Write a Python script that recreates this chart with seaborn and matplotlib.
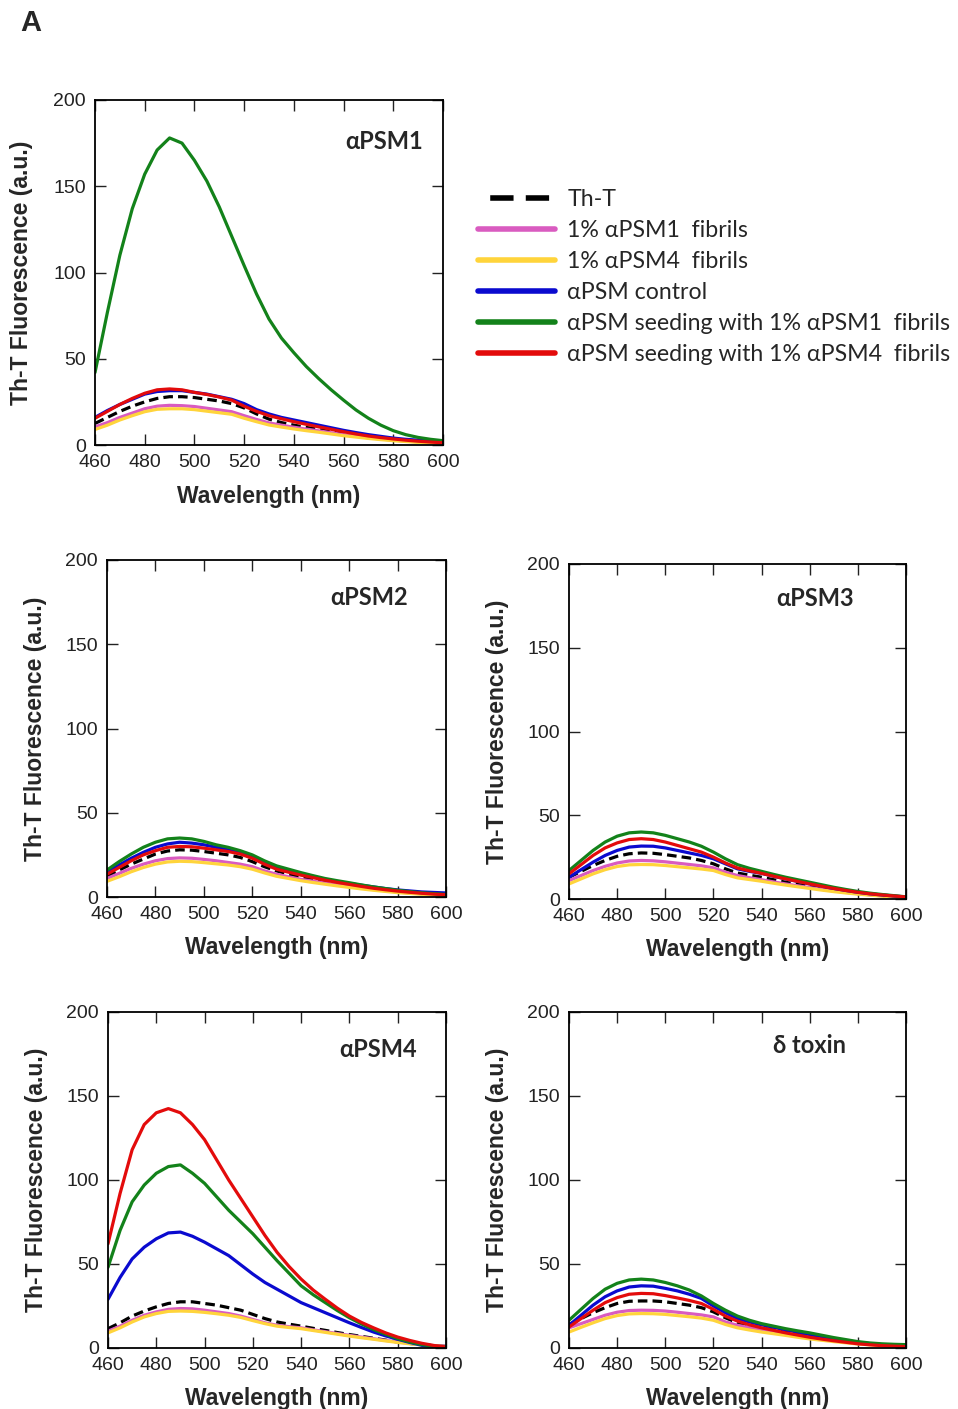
import matplotlib
matplotlib.use("Agg")
import matplotlib.pyplot as plt
import numpy as np
import pandas as pd
import seaborn as sns
from matplotlib.lines import Line2D

# wavelength grid (nm), shared by every curve
WL = list(range(460, 601, 5))

CONDITIONS = ["Th-T", "1% \u03b1PSM1  fibrils", "1% \u03b1PSM4  fibrils", "\u03b1PSM control",
              "\u03b1PSM seeding with 1% \u03b1PSM1  fibrils", "\u03b1PSM seeding with 1% \u03b1PSM4  fibrils"]
COLORS = ["black", "#D95BC0", "#FFD43B", "#0A0ACF", "#13821A", "#E30B0B"]
PANEL_TITLES = ["\u03b1PSM1", "\u03b1PSM2", "\u03b1PSM3", "\u03b1PSM4", "\u03b4 toxin"]

# --- alpha PSM1 ---
P1_THT = [12.5, 16, 19.5, 22.5, 25, 27, 28, 28, 27.5, 26.5, 25.5, 24, 21.5, 18, 15, 13, 11.5, 10.2, 9, 7.7, 6.5, 5.5, 4.5, 3.7, 3, 2.5, 2, 1.6, 1.2]
P1_F1 = [10.5, 13, 16, 18.5, 21, 22.5, 23, 22.8, 22.3, 21.3, 20.3, 19.3, 17, 14.8, 12.8, 11.5, 10.3, 9.2, 8.2, 7.1, 6, 5.1, 4.2, 3.5, 2.8, 2.3, 1.8, 1.4, 1]
P1_F4 = [9, 11.5, 14.5, 17, 19.3, 20.7, 21, 21, 20.5, 19.6, 18.7, 17.8, 15.5, 13.5, 11.6, 10.4, 9.3, 8.3, 7.4, 6.4, 5.4, 4.6, 3.8, 3.1, 2.5, 2, 1.5, 1.1, 0.8]
P1_CTRL = [16, 20, 23.5, 26.5, 29.5, 31, 31.5, 31.5, 30.5, 29.5, 28, 26.5, 24, 20.5, 18, 16, 14.5, 13, 11.5, 10, 8.5, 7.2, 6, 5, 4, 3.3, 2.8, 2.4, 2]
P1_SEED1 = [42, 77, 110, 137, 157, 171, 178, 175, 165, 153, 138, 121, 104, 87.5, 73, 62, 53.5, 45.5, 38.5, 32, 26, 20.3, 15.5, 11.5, 8.3, 6, 4.4, 3.3, 2.5]
P1_SEED4 = [15.5, 19.5, 23.5, 27, 30, 32, 32.5, 32, 30.5, 29.3, 27.8, 26, 22.5, 19.5, 17, 15.2, 13.5, 12, 10.5, 9.1, 7.7, 6.4, 5.2, 4.3, 3.5, 2.8, 2.2, 1.7, 1.3]

# --- alpha PSM2 ---
P2_THT = [12.3, 16, 19.5, 22.5, 25.5, 27.3, 28, 27.8, 27, 26, 25, 23.5, 21, 18, 15.5, 13.6, 12, 10.5, 9, 7.9, 6.8, 5.8, 4.8, 4, 3.2, 2.6, 2, 1.6, 1.2]
P2_F1 = [11, 14, 17, 19.5, 21.5, 22.8, 23.2, 23, 22.3, 21.5, 20.5, 19.5, 18, 15.5, 13.5, 12, 10.5, 9.4, 8.3, 7.2, 6.2, 5.3, 4.4, 3.7, 3, 2.4, 1.9, 1.5, 1.1]
P2_F4 = [9.3, 12, 15, 17.5, 19.5, 20.8, 21.2, 21, 20.4, 19.7, 19, 18, 16.5, 14.3, 12.3, 11, 9.7, 8.6, 7.6, 6.6, 5.7, 4.8, 4, 3.3, 2.6, 2.1, 1.6, 1.2, 0.9]
P2_CTRL = [14.5, 19, 23, 26.5, 29.5, 31.5, 32.5, 32, 31, 29.5, 28, 26, 23.5, 20, 17, 15.2, 13.5, 12, 10.5, 9.2, 8, 7, 6, 5, 4.2, 3.6, 3, 2.7, 2.4]
P2_SEED1 = [16, 21, 25.5, 29.5, 32.5, 34.5, 35, 34.5, 33, 31, 29.5, 27.5, 25, 21.5, 18.5, 16.5, 14.5, 12.7, 11, 9.7, 8.5, 7.2, 6, 5, 4, 3.2, 2.5, 2, 1.5]
P2_SEED4 = [13.5, 17.5, 21.5, 25, 27.5, 29.5, 30, 29.8, 29, 28, 27, 25.5, 23, 19.5, 16.5, 14.7, 13, 11.5, 10, 8.7, 7.5, 6.3, 5.2, 4.3, 3.5, 2.8, 2.2, 1.7, 1.3]

# --- alpha PSM3 ---
P3_THT = [13, 16.5, 20, 23, 25.5, 27, 27.5, 27.3, 26.5, 25.5, 24.5, 23, 21, 18, 15.5, 14.2, 13, 11.5, 10, 8.7, 7.5, 6.3, 5.2, 4.3, 3.4, 2.7, 2, 1.5, 1]
P3_F1 = [11, 14, 17, 19.5, 21.5, 22.7, 23, 22.8, 22.2, 21.4, 20.6, 19.8, 18.6, 16, 14, 12.7, 11.5, 10.2, 9, 7.9, 6.8, 5.8, 4.8, 4, 3.2, 2.5, 1.9, 1.4, 1]
P3_F4 = [9, 12, 15, 17.5, 19.4, 20.4, 20.6, 20.5, 20, 19.3, 18.6, 17.9, 17, 14.6, 12.6, 11.6, 10.6, 9.4, 8.3, 7.3, 6.3, 5.3, 4.4, 3.6, 2.9, 2.3, 1.7, 1.3, 0.9]
P3_CTRL = [13, 17.5, 22, 26, 29, 31, 31.6, 31.5, 30.5, 29, 27.5, 26, 24, 21, 18, 16.5, 15.3, 13.6, 12, 10.5, 9, 7.6, 6.3, 5.1, 4, 3.1, 2.4, 1.8, 1.2]
P3_SEED1 = [17, 23, 29, 34, 37.5, 39.5, 40, 39.5, 38, 36, 34, 31.5, 28, 24, 20.5, 18.3, 16.5, 14.7, 13, 11.5, 10, 8.5, 7, 5.7, 4.5, 3.5, 2.7, 2, 1.3]
P3_SEED4 = [15, 20.5, 26, 30.5, 33.5, 35.5, 36, 35.5, 34, 32, 30, 28, 25, 21.5, 18.5, 16.8, 15.3, 13.6, 12, 10.5, 9, 7.6, 6.3, 5.1, 4, 3.1, 2.4, 1.8, 1.2]

# --- alpha PSM4 ---
P4_THT = [11.5, 15, 19, 22, 24.5, 26.5, 27.5, 27.5, 26.5, 25.5, 24, 22.5, 20, 17.5, 15.5, 14.2, 13, 11.7, 10.5, 9.2, 8, 6.9, 5.8, 4.7, 3.6, 2.7, 2, 1.4, 1]
P4_F1 = [10, 13, 16.5, 19.5, 21.5, 23, 23.5, 23.3, 22.5, 21.5, 20.5, 19, 17, 15, 13.5, 12.7, 12, 10.8, 9.7, 8.6, 7.5, 6.5, 5.5, 4.5, 3.6, 2.8, 2, 1.4, 1]
P4_F4 = [9, 12, 15.5, 18.5, 20.5, 21.8, 22, 21.8, 21.2, 20.4, 19.5, 18.2, 16.3, 14.5, 13, 12.2, 11.5, 10.4, 9.3, 8.2, 7.1, 6.1, 5.2, 4.2, 3.3, 2.5, 1.8, 1.2, 0.8]
P4_CTRL = [29, 42, 53, 60, 65, 68.5, 69, 66.5, 63, 59, 55, 49.5, 44, 39, 35, 31, 27, 24, 21, 18, 15, 12.2, 9.5, 7.2, 5.2, 3.3, 1.6, 0.8, 0.4]
P4_SEED1 = [48, 70, 87, 97, 104, 108, 109, 104, 98, 90, 82, 75, 68, 60, 52, 44.5, 37, 31.7, 27, 22.3, 18, 14.3, 11, 8.2, 5.6, 3.6, 2, 1.1, 0.5]
P4_SEED4 = [62, 92, 118, 133, 140, 142.5, 140, 133, 124, 112, 100, 89, 78, 67, 57, 48.5, 41, 34.5, 29, 23.7, 19, 15.2, 12, 9, 6.5, 4.5, 2.8, 1.5, 0.6]

# --- delta toxin ---
P5_THT = [14, 17.5, 21, 24, 26.5, 27.8, 28, 28, 27.5, 26.5, 25.5, 24, 21.5, 18, 15, 13.5, 12, 10.6, 9.3, 8.1, 7, 5.9, 4.8, 3.9, 3, 2.4, 1.8, 1.4, 1]
P5_F1 = [12, 14.5, 17, 19.5, 21.3, 22.3, 22.5, 22.4, 22, 21.3, 20.5, 19.7, 18.5, 15.5, 13.5, 12.2, 11, 9.7, 8.5, 7.4, 6.3, 5.3, 4.4, 3.6, 2.8, 2.2, 1.6, 1.2, 0.9]
P5_F4 = [9.5, 12.3, 15, 17.5, 19.3, 20.3, 20.5, 20.4, 20, 19.3, 18.6, 17.8, 16.5, 14, 12, 10.7, 9.5, 8.5, 7.5, 6.4, 5.4, 4.6, 3.8, 3.1, 2.4, 1.9, 1.4, 1, 0.7]
P5_CTRL = [13.5, 19.5, 25.5, 30.5, 34, 36.3, 37, 36.8, 35.5, 34, 32, 29.5, 25, 21, 17.5, 15.5, 13.8, 12.3, 10.8, 9.4, 8, 6.8, 5.6, 4.5, 3.4, 2.6, 2, 1.6, 1.2]
P5_SEED1 = [16.5, 23, 29.5, 35, 38.5, 40.5, 41, 40.5, 39, 37, 34.5, 31, 26.5, 22.5, 19, 16.5, 14.5, 13, 11.5, 10.2, 9, 7.6, 6.2, 5, 3.8, 3, 2.5, 2.2, 2]
P5_SEED4 = [12.5, 17.5, 22.5, 27, 30, 32, 32.5, 32.3, 31.2, 29.8, 28.3, 26.5, 23, 19, 16, 13.8, 12, 10.5, 9, 7.7, 6.4, 5.3, 4.3, 3.4, 2.5, 1.9, 1.4, 1.1, 0.8]

PANELS = [
    [P1_THT, P1_F1, P1_F4, P1_CTRL, P1_SEED1, P1_SEED4],
    [P2_THT, P2_F1, P2_F4, P2_CTRL, P2_SEED1, P2_SEED4],
    [P3_THT, P3_F1, P3_F4, P3_CTRL, P3_SEED1, P3_SEED4],
    [P4_THT, P4_F1, P4_F4, P4_CTRL, P4_SEED1, P4_SEED4],
    [P5_THT, P5_F1, P5_F4, P5_CTRL, P5_SEED1, P5_SEED4],
]

W, H = 958, 1409
# axes boxes in pixels: left, top, right, bottom
BOXES = [(95, 100, 443, 445), (107, 560, 446, 897), (569, 564, 906, 899),
         (108, 1012, 446, 1348), (569, 1012, 906, 1348)]
TITLE_POS = [(0.943, 0.881), (0.888, 0.890), (0.846, 0.896), (0.914, 0.887), (0.822, 0.899)]

sns.set_style("ticks")
plt.rcParams["font.family"] = ["Liberation Sans", "DejaVu Sans"]
plt.rcParams["lines.solid_joinstyle"] = "round"
plt.rcParams["lines.dash_joinstyle"] = "round"
TITLE_FONT = ["Lato", "Noto Sans", "DejaVu Sans"]

fig = plt.figure(figsize=(W / 100, H / 100), dpi=100)
palette = dict(zip(CONDITIONS, COLORS))
dashes = {c: "" for c in CONDITIONS}
dashes["Th-T"] = (3, 1.6)

for i, (curves, box) in enumerate(zip(PANELS, BOXES)):
    l, t, r, b = box
    ax = fig.add_axes([l / W, 1 - b / H, (r - l) / W, (b - t) / H])
    df = pd.DataFrame({
        "wavelength": WL * len(curves),
        "fluor": np.concatenate(curves),
        "condition": np.repeat(CONDITIONS, len(WL)),
    })
    sns.lineplot(data=df, x="wavelength", y="fluor", hue="condition", style="condition",
                 hue_order=CONDITIONS, style_order=CONDITIONS, palette=palette,
                 dashes=dashes, lw=2.3, legend=False, ax=ax)
    ax.set_xlim(460, 600)
    ax.set_ylim(0, 200)
    ax.set_xticks(range(460, 601, 20))
    ax.set_yticks(range(0, 201, 50))
    ax.tick_params(direction="in", length=8, width=1, top=True, right=True,
                   labelsize=14, pad=6.5, colors="#222222")
    for sp in ax.spines.values():
        sp.set_linewidth(1.3)
        sp.set_color("black")
    ax.set_xlabel("Wavelength (nm)", fontsize=16.5, fontweight="bold")
    ax.set_ylabel("Th-T Fluorescence (a.u.)", fontsize=16.5, fontweight="bold")
    ax.xaxis.set_label_coords(0.5, -0.115)
    ax.yaxis.set_label_coords(-0.178, 0.5)
    tx, ty = TITLE_POS[i]
    ax.text(tx, ty, PANEL_TITLES[i], transform=ax.transAxes, ha="right", va="center",
            fontsize=17, fontweight="bold", family=TITLE_FONT)

    if i == 0:
        handles = [Line2D([], [], color=c, lw=4,
                          linestyle=(4.2, (4.2, 2.2)) if n == "Th-T" else "-")
                   for n, c in zip(CONDITIONS, COLORS)]
        ax.legend(handles, CONDITIONS, loc="upper left", bbox_to_anchor=(478 / W, 1 - 189 / H),
                  bbox_transform=fig.transFigure, frameon=False, borderpad=0, borderaxespad=0,
                  handlelength=3.3, handletextpad=0.55, labelspacing=0.43,
                  prop={"family": TITLE_FONT, "size": 16.7})

fig.text(20 / W, 1 - 31 / H, "A", fontsize=21, fontweight="bold", ha="left", va="baseline")

fig.savefig("out.png", dpi=100)
